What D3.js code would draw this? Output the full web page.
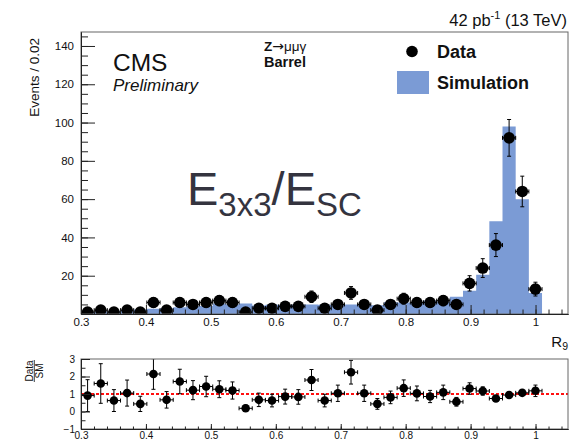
<!DOCTYPE html>
<html><head><meta charset="utf-8">
<script src="https://cdn.jsdelivr.net/npm/d3@7"></script>
<style>
body{margin:0;background:#fff}
svg{display:block}
text{font-family:"Liberation Sans",Arial,Helvetica,sans-serif;fill:#111}
</style>
</head><body><svg id="c" width="575" height="440"></svg>
<script>
// Binning of R9 (35 bins)
const binLow = 0.3, binHigh = 1.01, nBins = 35;

// Simulated Z->mumugamma barrel photons, events per bin
const simulation = [1.1, 1.25, 1.6, 1.9, 2.3, 2.8, 3.0, 3.5, 4.1, 4.2,
                    5.5, 5.0, 5.5, 4.5, 4.8, 4.7, 4.8, 5.0, 4.8, 4.8,
                    4.9, 4.8, 4.6, 6.2, 6.0, 5.8, 7.0, 6.4, 9.0, 12.2,
                    20.5, 48.5, 98.0, 60.0, 11.0];

// Observed events per bin
const observed = [1, 2, 1, 2, 1, 6, 2, 6, 5, 6,
                  7, 6, 1, 3, 3, 4, 4, 9, 3, 5,
                  11, 5, 2, 5, 8, 6, 6, 7, 5, 16,
                  24, 36, 92, 64, 13];

// Axis ticks and labels
const xTicks = [0.3, 0.4, 0.5, 0.6, 0.7, 0.8, 0.9, 1.0];
const xTickLabels = ["0.3", "0.4", "0.5", "0.6", "0.7", "0.8", "0.9", "1"];
const yTicks = [20, 40, 60, 80, 100, 120, 140];
const ratioTicks = [-1, 0, 1, 2, 3];

const binW = (binHigh - binLow) / nBins;
const edges = d3.range(nBins + 1).map(i => binLow + i * binW);
const bins = observed.map((n, i) => ({
  lo: edges[i], hi: edges[i + 1], c: (edges[i] + edges[i + 1]) / 2,
  n, err: Math.sqrt(n), sim: simulation[i]
}));

const svg = d3.select("#c");
const FONT = '"Liberation Sans",Arial,Helvetica,sans-serif';
const blue = "#7b9bd5";

// Scales
const x = d3.scaleLinear().domain([0.3, 1.05]).range([81, 568]);
const y = d3.scaleLinear().domain([0, 147.3]).range([314, 32]);
const yr = d3.scaleLinear().domain([-1, 3]).range([429, 359]);

// Clip paths for both pads
const defs = svg.append("defs");
defs.append("clipPath").attr("id", "mainClip").append("rect")
  .attr("x", x.range()[0]).attr("y", y.range()[1])
  .attr("width", x.range()[1] - x.range()[0]).attr("height", y.range()[0] - y.range()[1]);
defs.append("clipPath").attr("id", "ratioClip").append("rect")
  .attr("x", x.range()[0]).attr("y", yr.range()[1])
  .attr("width", x.range()[1] - x.range()[0]).attr("height", yr.range()[0] - yr.range()[1]);

// ---------- Upper pad ----------
const main = svg.append("g").attr("clip-path", "url(#mainClip)");

// Simulation histogram as a filled step area
const stepPts = bins.map(b => ({ x: b.lo, v: b.sim }));
stepPts.push({ x: binHigh, v: simulation[nBins - 1] });
main.append("path")
  .datum(stepPts)
  .attr("fill", blue)
  .attr("d", d3.area().curve(d3.curveStepAfter)
    .x(d => x(d.x)).y0(y(0)).y1(d => y(d.v)));

// Data points with error bars
function drawPoints(g, data, ys, valFn, errFn, r) {
  const cap = 2;
  const pts = g.selectAll("g.pt").data(data).join("g").attr("class", "pt");
  pts.append("line")
    .attr("x1", d => x(d.lo)).attr("x2", d => x(d.hi))
    .attr("y1", d => ys(valFn(d))).attr("y2", d => ys(valFn(d)))
    .attr("stroke", "#000").attr("stroke-width", 1);
  pts.append("line")
    .attr("x1", d => x(d.c)).attr("x2", d => x(d.c))
    .attr("y1", d => ys(valFn(d) - errFn(d))).attr("y2", d => ys(valFn(d) + errFn(d)))
    .attr("stroke", "#000").attr("stroke-width", 1);
  // end caps
  pts.each(function (d) {
    const s = d3.select(this);
    const v = valFn(d), e = errFn(d);
    [x(d.lo), x(d.hi)].forEach(px => s.append("line")
      .attr("x1", px).attr("x2", px).attr("y1", ys(v) - cap).attr("y2", ys(v) + cap)
      .attr("stroke", "#000").attr("stroke-width", 1));
    [ys(v - e), ys(v + e)].forEach(py => s.append("line")
      .attr("x1", x(d.c) - cap).attr("x2", x(d.c) + cap).attr("y1", py).attr("y2", py)
      .attr("stroke", "#000").attr("stroke-width", 1));
  });
  pts.append("circle")
    .attr("cx", d => x(d.c)).attr("cy", d => ys(valFn(d))).attr("r", r)
    .attr("fill", "#000");
}
drawPoints(main, bins, y, d => d.n, d => d.err, 5.8);

// Frame
svg.append("rect")
  .attr("x", x.range()[0]).attr("y", y.range()[1])
  .attr("width", x.range()[1] - x.range()[0]).attr("height", y.range()[0] - y.range()[1])
  .attr("fill", "none").attr("stroke", "#666").attr("stroke-width", 1);

// Axes (ticks pointing inwards)
function styleAxis(g) {
  g.select(".domain").attr("stroke", "#222");
  g.selectAll(".tick line").attr("stroke", "#222");
  g.selectAll("text").attr("font-family", FONT).attr("fill", "#111");
}
const xMinor = d3.range(0, 38).map(i => 0.3 + i * 0.02).filter(v => v <= 1.05);

svg.append("g").attr("transform", `translate(0,${y.range()[0]})`)
  .call(d3.axisBottom(x).tickValues(xMinor).tickSizeInner(-4.5).tickSizeOuter(0).tickFormat(""))
  .call(styleAxis);
svg.append("g").attr("transform", `translate(0,${y.range()[0]})`)
  .call(d3.axisBottom(x).tickValues(xTicks).tickSizeInner(-9).tickSizeOuter(0)
    .tickPadding(4).tickFormat((d, i) => xTickLabels[i]))
  .call(styleAxis)
  .call(g => g.selectAll("text").attr("font-size", 11.5));

svg.append("g").attr("transform", `translate(${x.range()[0]},0)`)
  .call(d3.axisLeft(y).tickValues(d3.range(5, 147, 5)).tickSizeInner(-7).tickSizeOuter(0).tickFormat(""))
  .call(styleAxis);
svg.append("g").attr("transform", `translate(${x.range()[0]},0)`)
  .call(d3.axisLeft(y).tickValues(yTicks).tickSizeInner(-14).tickSizeOuter(0)
    .tickPadding(7).tickFormat(d3.format("d")))
  .call(styleAxis)
  .call(g => g.selectAll("text").attr("font-size", 11.5));

// Axis titles
svg.append("text")
  .attr("transform", "translate(39,38) rotate(-90)")
  .attr("text-anchor", "end").attr("font-size", 13.5)
  .text("Events / 0.02");

const r9 = svg.append("text").attr("x", 568).attr("y", 347)
  .attr("text-anchor", "end").attr("font-size", 15);
r9.append("tspan").text("R");
r9.append("tspan").attr("font-size", 10.5).attr("dy", 3).text("9");

// Header
const lumi = svg.append("text").attr("x", 567).attr("y", 26)
  .attr("text-anchor", "end").attr("font-size", 16.5);
lumi.append("tspan").text("42 pb");
lumi.append("tspan").attr("font-size", 11).attr("dy", -7).text("-1");
lumi.append("tspan").attr("dy", 7).text(" (13 TeV)");

svg.append("text").attr("x", 113).attr("y", 71).attr("font-size", 24.5).text("CMS");
svg.append("text").attr("x", 113).attr("y", 91).attr("font-size", 17)
  .attr("font-style", "italic").text("Preliminary");

const proc = svg.append("text").attr("x", 264).attr("y", 51).attr("font-size", 13.5);
proc.append("tspan").attr("font-weight", "bold").text("Z");
proc.append("tspan").attr("font-family", '"DejaVu Sans",sans-serif').attr("font-size", 14).text("\u2192");
proc.append("tspan").text("\u03bc\u03bc\u03b3");
svg.append("text").attr("x", 264).attr("y", 67).attr("font-size", 14.5)
  .attr("font-weight", "bold").text("Barrel");

// Legend
svg.append("circle").attr("cx", 412).attr("cy", 51.5).attr("r", 5.8).attr("fill", "#000");
svg.append("text").attr("x", 437).attr("y", 58).attr("font-size", 18)
  .attr("font-weight", "bold").text("Data");
svg.append("rect").attr("x", 397).attr("y", 71).attr("width", 32).attr("height", 23).attr("fill", blue);
svg.append("text").attr("x", 437).attr("y", 89).attr("font-size", 18)
  .attr("font-weight", "bold").text("Simulation");

// Variable name
const ev = svg.append("text").attr("x", 187).attr("y", 205)
  .attr("font-size", 47).style("fill", "#34343f");
ev.append("tspan").text("E");
ev.append("tspan").attr("font-size", 33).attr("dy", 11).text("3x3");
ev.append("tspan").attr("dy", -11).text("/E");
ev.append("tspan").attr("font-size", 33).attr("dy", 11).text("SC");

// ---------- Ratio pad ----------
const ratio = svg.append("g").attr("clip-path", "url(#ratioClip)");

ratio.append("line")
  .attr("x1", x.range()[0]).attr("x2", x.range()[1])
  .attr("y1", yr(1)).attr("y2", yr(1))
  .attr("stroke", "#ff1010").attr("stroke-width", 2.2).attr("stroke-dasharray", "3,2");

drawPoints(ratio, bins, yr, d => d.n / d.sim, d => d.err / d.sim, 4.3);

svg.append("rect")
  .attr("x", x.range()[0]).attr("y", yr.range()[1])
  .attr("width", x.range()[1] - x.range()[0]).attr("height", yr.range()[0] - yr.range()[1])
  .attr("fill", "none").attr("stroke", "#666").attr("stroke-width", 1);

svg.append("g").attr("transform", `translate(0,${yr.range()[0]})`)
  .call(d3.axisBottom(x).tickValues(xMinor).tickSizeInner(-2.5).tickSizeOuter(0).tickFormat(""))
  .call(styleAxis);
svg.append("g").attr("transform", `translate(0,${yr.range()[0]})`)
  .call(d3.axisBottom(x).tickValues(xTicks).tickSizeInner(-5).tickSizeOuter(0)
    .tickPadding(3).tickFormat((d, i) => xTickLabels[i]))
  .call(styleAxis)
  .call(g => g.selectAll("text").attr("font-size", 10));

svg.append("g").attr("transform", `translate(${x.range()[0]},0)`)
  .call(d3.axisLeft(yr).tickValues(d3.range(-0.5, 3, 0.5)).tickSizeInner(-4.5).tickSizeOuter(0).tickFormat(""))
  .call(styleAxis);
svg.append("g").attr("transform", `translate(${x.range()[0]},0)`)
  .call(d3.axisLeft(yr).tickValues(ratioTicks).tickSizeInner(-9).tickSizeOuter(0)
    .tickPadding(6).tickFormat(d3.format("d")))
  .call(styleAxis)
  .call(g => g.selectAll("text").attr("font-size", 10));

// Ratio axis title as a fraction
const frac = svg.append("g").attr("transform", "translate(0,371)");
frac.append("text").attr("transform", "translate(32.5,0) rotate(-90)")
  .attr("text-anchor", "middle").attr("font-size", 10).text("Data");
frac.append("line").attr("x1", 34.3).attr("x2", 34.3).attr("y1", -11).attr("y2", 11)
  .attr("stroke", "#111").attr("stroke-width", 0.8);
frac.append("text").attr("transform", "translate(42.5,0) rotate(-90)")
  .attr("text-anchor", "middle").attr("font-size", 10).text("SM");
</script>
</body></html>
